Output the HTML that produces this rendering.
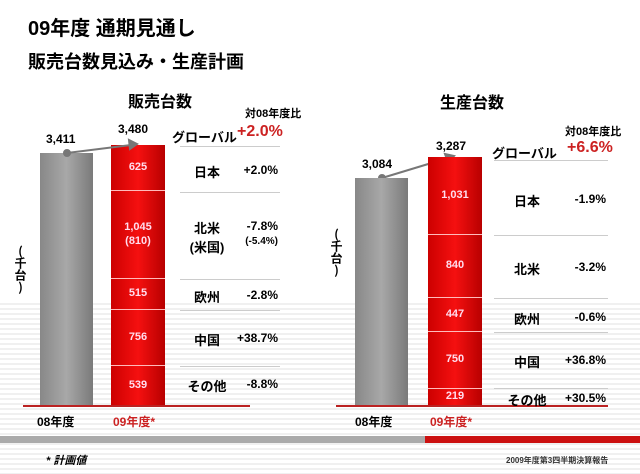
<!DOCTYPE html><html><head><meta charset="utf-8"><style>
body{margin:0;width:640px;height:474px;overflow:hidden;background:#fff;font-family:"Liberation Sans","Noto Sans CJK JP",sans-serif;font-weight:bold;position:relative}
div{position:absolute}
.t{white-space:nowrap}
.g{background:linear-gradient(90deg,#888,#a8a8a8 50%,#7a7a7a)}
.r{background:linear-gradient(90deg,#c00,#f51010 50%,#b80000);border-bottom:1px solid #fbb;color:#fde;font-size:11px;display:flex;align-items:center;justify-content:center;text-align:center;line-height:1.2}
.ln{height:1px;background:#ccc}
.lb{font-size:13px;text-align:center;width:60px}
.v{font-size:12px;text-align:right;width:70px}
.vt{font-family:"Noto Sans CJK JP",sans-serif;writing-mode:vertical-rl;text-orientation:upright;line-height:1}
</style></head><body>
<div style="left:0;top:300px;width:640px;height:174px;background:repeating-linear-gradient(180deg,#fff 0,#fff 3px,#f0f0f0 3px,#f0f0f0 5px)"></div>
<div class="t" style="left:28px;top:12px;font-size:20px">09年度 通期見通し</div>
<div class="t" style="left:28px;top:48px;font-size:18px">販売台数見込み・生産計画</div>
<div class="t" style="left:128px;top:88px;font-size:16px">販売台数</div>
<div class="t" style="left:440px;top:89px;font-size:16px">生産台数</div>
<div class="t vt" style="left:14px;top:245px;font-size:12px">(千台)</div>
<div class="t vt" style="left:330px;top:228px;font-size:12px">(千台)</div>
<!-- left chart -->
<div class="g" style="left:40px;top:153px;width:53px;height:252px"></div>
<div class="t" style="left:46px;top:132px;font-size:12px">3,411</div>
<div class="t" style="left:118px;top:122px;font-size:12px">3,480</div>
<div class="r" style="left:111px;top:145px;width:54px;height:45px">625</div>
<div class="r" style="left:111px;top:191px;width:54px;height:87px">1,045<br>(810)</div>
<div class="r" style="left:111px;top:279px;width:54px;height:30px">515</div>
<div class="r" style="left:111px;top:310px;width:54px;height:55px">756</div>
<div class="r" style="left:111px;top:366px;width:54px;height:39px;border:0">539</div>
<svg style="position:absolute;left:0;top:0" width="640" height="474"><g stroke="#777" stroke-width="2" fill="#777"><line x1="67" y1="153" x2="131" y2="145"/><circle cx="67" cy="153" r="3"/><polygon points="137,144 129,140 130,149"/><line x1="382" y1="178" x2="448" y2="158"/><circle cx="382" cy="178" r="3"/><polygon points="454,156 445,154 448,162"/></g></svg>
<div style="left:23px;top:405px;width:227px;height:2px;background:#b22"></div>
<div class="t" style="left:245px;top:105px;font-size:11px">対08年度比</div>
<div class="t" style="left:172px;top:127px;font-size:13px">グローバル</div>
<div class="t" style="left:237px;top:123px;font-size:16px;color:#c22">+2.0%</div>
<div class="ln" style="left:180px;top:146px;width:100px"></div>
<div class="ln" style="left:180px;top:192px;width:100px"></div>
<div class="ln" style="left:180px;top:279px;width:100px"></div>
<div class="ln" style="left:180px;top:310px;width:100px"></div>
<div class="ln" style="left:180px;top:366px;width:100px"></div>
<div class="lb" style="left:177px;top:162px">日本</div><div class="v t" style="left:208px;top:163px">+2.0%</div>
<div class="lb" style="left:177px;top:218px">北米<br>(米国)</div><div class="v t" style="left:208px;top:219px">-7.8%<br><span style="font-size:10px">(-5.4%)</span></div>
<div class="lb" style="left:177px;top:287px">欧州</div><div class="v t" style="left:208px;top:288px">-2.8%</div>
<div class="lb" style="left:177px;top:330px">中国</div><div class="v t" style="left:208px;top:331px">+38.7%</div>
<div class="lb" style="left:177px;top:376px">その他</div><div class="v t" style="left:208px;top:377px">-8.8%</div>
<div class="t" style="left:37px;top:413px;font-size:12px">08年度</div>
<div class="t" style="left:113px;top:413px;font-size:12px;color:#c22">09年度*</div>
<!-- right chart -->
<div class="g" style="left:355px;top:178px;width:53px;height:227px"></div>
<div class="t" style="left:362px;top:157px;font-size:12px">3,084</div>
<div class="t" style="left:436px;top:139px;font-size:12px">3,287</div>
<div class="r" style="left:428px;top:157px;width:54px;height:77px">1,031</div>
<div class="r" style="left:428px;top:235px;width:54px;height:62px">840</div>
<div class="r" style="left:428px;top:298px;width:54px;height:33px">447</div>
<div class="r" style="left:428px;top:332px;width:54px;height:56px">750</div>
<div class="r" style="left:428px;top:389px;width:54px;height:16px;border:0">219</div>
<div style="left:336px;top:405px;width:272px;height:2px;background:#b22"></div>
<div class="t" style="left:565px;top:123px;font-size:11px">対08年度比</div>
<div class="t" style="left:492px;top:143px;font-size:13px">グローバル</div>
<div class="t" style="left:567px;top:139px;font-size:16px;color:#c22">+6.6%</div>
<div class="ln" style="left:494px;top:160px;width:114px"></div>
<div class="ln" style="left:494px;top:235px;width:114px"></div>
<div class="ln" style="left:494px;top:298px;width:114px"></div>
<div class="ln" style="left:494px;top:332px;width:114px"></div>
<div class="ln" style="left:494px;top:388px;width:114px"></div>
<div class="lb" style="left:497px;top:191px">日本</div><div class="v t" style="left:536px;top:192px">-1.9%</div>
<div class="lb" style="left:497px;top:259px">北米</div><div class="v t" style="left:536px;top:260px">-3.2%</div>
<div class="lb" style="left:497px;top:309px">欧州</div><div class="v t" style="left:536px;top:310px">-0.6%</div>
<div class="lb" style="left:497px;top:352px">中国</div><div class="v t" style="left:536px;top:353px">+36.8%</div>
<div class="lb" style="left:497px;top:390px">その他</div><div class="v t" style="left:536px;top:391px">+30.5%</div>
<div class="t" style="left:355px;top:413px;font-size:12px">08年度</div>
<div class="t" style="left:430px;top:413px;font-size:12px;color:#c22">09年度*</div>
<div style="left:0;top:436px;width:425px;height:7px;background:#aaa"></div>
<div style="left:425px;top:436px;width:215px;height:7px;background:#c11"></div>
<div class="t" style="left:46px;top:452px;font-size:11px;font-style:italic">* 計画値</div>
<div class="t" style="left:506px;top:455px;font-size:8px;color:#333">2009年度第3四半期決算報告</div>
</body></html>
